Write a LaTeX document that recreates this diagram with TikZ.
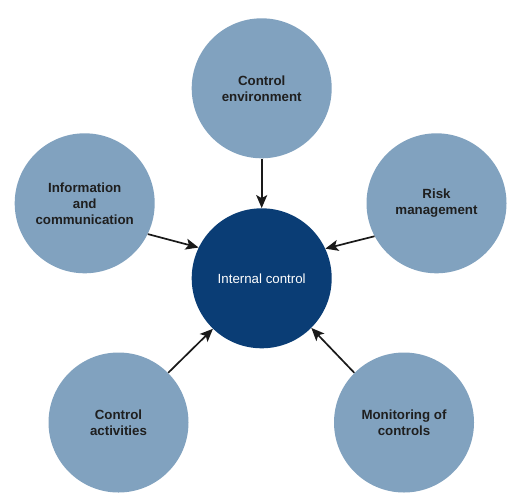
\documentclass[tikz,border=0pt]{standalone}
\usepackage{fontspec}
\setmainfont{Liberation Sans}
\usetikzlibrary{arrows.meta}
\definecolor{lightb}{HTML}{81A2BF}
\definecolor{darkb}{HTML}{0A3D75}
\definecolor{arrowc}{HTML}{1A1A1A}
\begin{document}
\begin{tikzpicture}[x=1pt,y=-1pt,
  comp/.style={circle,fill=lightb,minimum size=140pt,inner sep=0pt,align=center,
    font=\fontsize{13.3}{16}\selectfont\bfseries,text=black!88},
  core/.style={circle,fill=darkb,minimum size=140pt,inner sep=0pt,align=center,
    font=\fontsize{13.3}{16}\selectfont,text=white},
  conn/.style={draw=arrowc,line width=1.7pt,-{Stealth[length=13pt,width=11pt,inset=3pt]}}]
\useasboundingbox (0,0) rectangle (532,503);
\node[core] (ic) at (261.7,278.3) {Internal control};
\node[comp] (ce) at (261.7,88.3) {Control\\environment};
\node[comp] (info) at (84.7,203.3) {Information\\and\\communication};
\node[comp] (risk) at (436.5,203.3) {Risk\\management};
\node[comp] (ca) at (118.5,422.5) {Control\\activities};
\node[comp] (mon) at (404,422.5) {Monitoring of\\controls};
\draw[conn] (ce.-90) -- (ic.90);
\draw[conn] (info.-26.6) -- (ic.154.4);
\draw[conn] (risk.-152.7) -- (ic.25.4);
\draw[conn] (ca.45) -- (ic.-134);
\draw[conn] (mon.135) -- (ic.-45.5);
\end{tikzpicture}
\end{document}
